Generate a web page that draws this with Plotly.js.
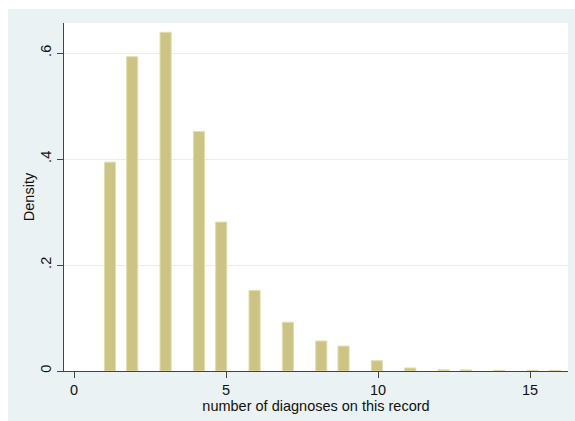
<!DOCTYPE html>
<html>
<head>
<meta charset="utf-8">
<script src="https://cdn.plot.ly/plotly-3.0.1.min.js"></script>
<style>
  html, body { margin: 0; padding: 0; background: #ffffff; }
  #chart { position: absolute; left: 8px; top: 9px; width: 567px; height: 412px; }
</style>
</head>
<body>
<div id="chart"></div>
<script>
// Observed values (number of diagnoses) and their histogram densities
const values  = [1, 2, 3, 4, 5, 6, 7, 8, 9, 10, 11, 12, 13, 14, 15, 16];
const density = [0.394, 0.593, 0.639, 0.452, 0.281, 0.152, 0.092, 0.0566, 0.047, 0.0195, 0.0057, 0.0022, 0.002, 0.0012, 0.0012, 0.0012];
const yTickVals = [0, 0.2, 0.4, 0.6];
const yTickText = ["0", ".2", ".4", ".6"];
const xTickVals = [0, 5, 10, 15];
const xTickText = ["0", "5", "10", "15"];

// Stata-style binning: 41 equal bins spanning min..max
const nBins = 41;
const lo = Math.min(...values), hi = Math.max(...values);
const binW = (hi - lo) / nBins;
const centers = values.map(v => {
  const idx = Math.min(Math.floor((v - lo) / binW + 1e-9), nBins - 1);
  return lo + (idx + 0.5) * binW;
});

const trace = {
  type: 'bar',
  x: centers,
  y: density,
  width: binW,
  marker: { color: 'rgb(204,196,132)', line: { color: 'rgb(226,221,172)', width: 1 } },
  hoverinfo: 'none'
};

const font = { family: 'Liberation Sans, Arial, sans-serif', size: 14.5, color: '#111111' };

const layout = {
  width: 567, height: 412,
  margin: { l: 56, r: 7, t: 14, b: 50 },
  paper_bgcolor: '#eaf2f3',
  plot_bgcolor: '#ffffff',
  font: font,
  showlegend: false,
  bargap: 0,
  xaxis: {
    range: [-0.33, 16.25],
    tickvals: xTickVals, ticktext: xTickText,
    ticks: 'outside', ticklen: 6, tickcolor: '#444', tickwidth: 1,
    showline: true, linecolor: '#444', linewidth: 1,
    showgrid: false, zeroline: false,
    tickfont: font,
    title: { text: 'number of diagnoses on this record', font: font, standoff: 1 }
  },
  yaxis: {
    range: [0, 0.6566],
    tickvals: yTickVals, ticktext: yTickText,
    tickangle: -90,
    ticks: 'outside', ticklen: 6, tickcolor: '#444', tickwidth: 1,
    showline: true, linecolor: '#444', linewidth: 1,
    showgrid: true, gridcolor: '#e6eff0', gridwidth: 1,
    zeroline: false,
    tickfont: font,
    title: { text: 'Density', font: font, standoff: 0 }
  }
};

Plotly.newPlot('chart', [trace], layout, { staticPlot: true, displayModeBar: false });
</script>
</body>
</html>
